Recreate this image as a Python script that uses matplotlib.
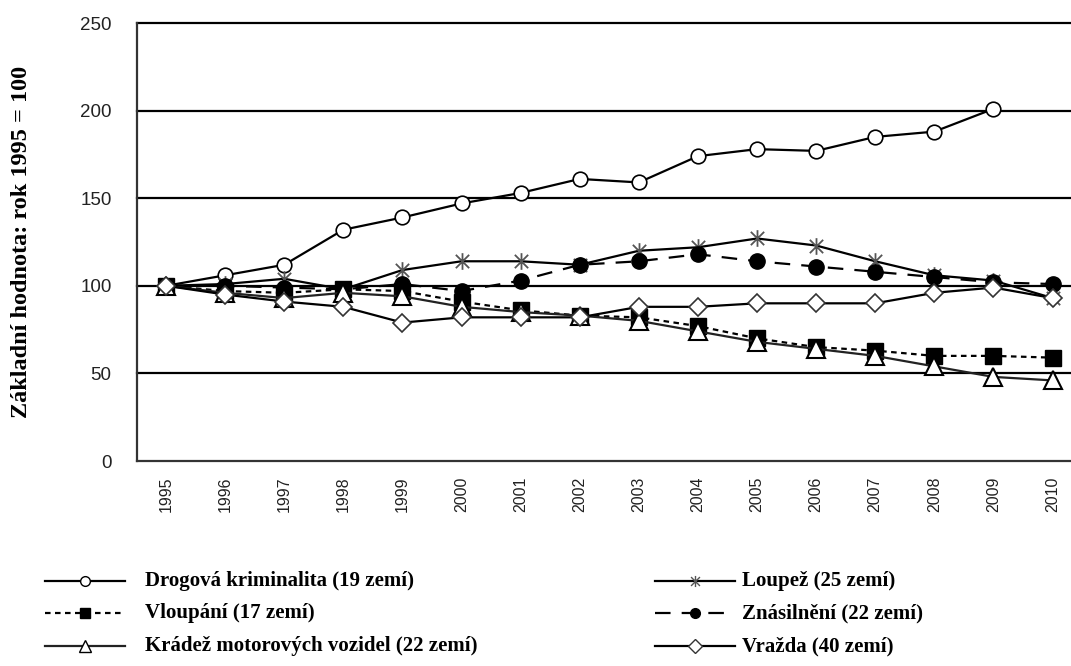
import numpy as np
import matplotlib
matplotlib.use("Agg")
import matplotlib.pyplot as plt
from matplotlib.lines import Line2D
from matplotlib.path import Path

years = ["1995", "1996", "1997", "1998", "1999", "2000", "2001", "2002",
         "2003", "2004", "2005", "2006", "2007", "2008", "2009", "2010"]
drogova = [100, 106, 112, 132, 139, 147, 153, 161, 159, 174, 178, 177, 185, 188, 201, np.nan]
loupez = [100, 101, 104, 98, 109, 114, 114, 112, 120, 122, 127, 123, 114, 106, 103, 93]
vloupani = [100, 97, 96, 98, 97, 91, 86, 83, 82, 77, 70, 65, 63, 60, 60, 59]
znasilneni = [100, 100, 99, 98, 101, 97, 103, 112, 114, 118, 114, 111, 108, 105, 102, 101]
kradez = [100, 96, 93, 96, 94, 88, 85, 83, 80, 74, 68, 64, 60, 54, 48, 46]
vrazda = [100, 95, 91, 88, 79, 82, 82, 82, 88, 88, 90, 90, 90, 96, 99, 93]

labels = ["Drogová kriminalita (19 zemí)", "Loupež (25 zemí)",
          "Vloupání (17 zemí)", "Znásilnění (22 zemí)",
          "Krádež motorových vozidel (22 zemí)", "Vražda (40 zemí)"]
yticks = [0, 50, 100, 150, 200, 250]

# Excel-like asterisk marker: X plus vertical bar
ast = Path([(-1, -1), (1, 1), (-1, 1), (1, -1), (0, -1.25), (0, 1.25)],
           [Path.MOVETO, Path.LINETO, Path.MOVETO, Path.LINETO, Path.MOVETO, Path.LINETO])

W, H = 1071, 666
fig = plt.figure(figsize=(W / 100, H / 100), dpi=100)
ax = fig.add_axes([136.5 / W, 1 - 461 / H, 945.6 / W, 438 / H])

x = np.arange(len(years))
styles = [
    dict(data=drogova, ls="-", color="black", marker="o", mfc="white", mec="black", ms=10.5, mew=1.2, lw=1.6),
    dict(data=loupez, ls="-", color="black", marker=ast, mfc="none", mec="#555555", ms=12, mew=1.3, lw=1.6),
    dict(data=vloupani, ls=(0, (2.5, 2)), color="black", marker="s", mfc="black", mec="black", ms=11, mew=1.0, lw=1.6),
    dict(data=znasilneni, ls=(0, (7, 5)), color="black", marker="o", mfc="black", mec="black", ms=11, mew=1.0, lw=1.6),
    dict(data=kradez, ls="-", color="#222222", marker="^", mfc="white", mec="black", ms=13, mew=1.5, lw=1.6),
    dict(data=vrazda, ls="-", color="black", marker="D", mfc="white", mec="#333333", ms=9, mew=1.2, lw=1.6),
]
for i, s in enumerate(styles):
    ax.plot(x, s["data"], linestyle=s["ls"], color=s["color"], marker=s["marker"],
            markerfacecolor=s["mfc"], markeredgecolor=s["mec"], markersize=s["ms"],
            markeredgewidth=s["mew"], linewidth=s["lw"], zorder=3 + i, clip_on=False)

ax.set_xlim(-0.5, len(years) - 0.5)
ax.set_ylim(0, 250)
ax.set_xticks(x)
ax.set_xticklabels(years, rotation=90, fontfamily="Liberation Sans", fontsize=11.5, color="#222222")
ax.set_yticks(yticks)
ax.set_yticklabels([str(v) for v in yticks], fontfamily="Liberation Sans", fontsize=13.5, color="#222222")
ax.tick_params(axis="y", length=0, pad=18)
ax.tick_params(axis="x", length=0, pad=11)
for v in yticks[1:]:
    ax.axhline(v, color="black", lw=1.6, zorder=1, clip_on=False)
for sp in ["top", "right"]:
    ax.spines[sp].set_visible(False)
for sp in ["left", "bottom"]:
    ax.spines[sp].set_color("#333333")
    ax.spines[sp].set_linewidth(1.6)

fig.text(22 / W, 1 - 242 / H, "Základní hodnota: rok 1995 = 100", rotation=90,
         ha="center", va="center", fontfamily="Liberation Serif", fontweight="bold", fontsize=17.5)

# Legend (manual, two columns)
leg_ms = [7, 8, 7, 7, 9, 7]
rows_y = [581, 613, 646]
cols = [(45, 125, 145), (655, 735, 742)]
for i, s in enumerate(styles):
    r, c = i // 2, i % 2
    x0, x1, tx = cols[c]
    yy = 1 - rows_y[r] / H
    ln = Line2D([x0 / W, (x0 + x1) / 2 / W, x1 / W], [yy, yy, yy], transform=fig.transFigure,
                linestyle=s["ls"], color=s["color"], marker=s["marker"], markevery=[1],
                markerfacecolor=s["mfc"], markeredgecolor=s["mec"], markersize=leg_ms[i],
                markeredgewidth=1.0, linewidth=1.6)
    fig.add_artist(ln)
    fig.text(tx / W, yy, labels[i], ha="left", va="center", fontfamily="Liberation Serif",
             fontweight="bold", fontsize=15)

fig.savefig("out.png", dpi=100)
